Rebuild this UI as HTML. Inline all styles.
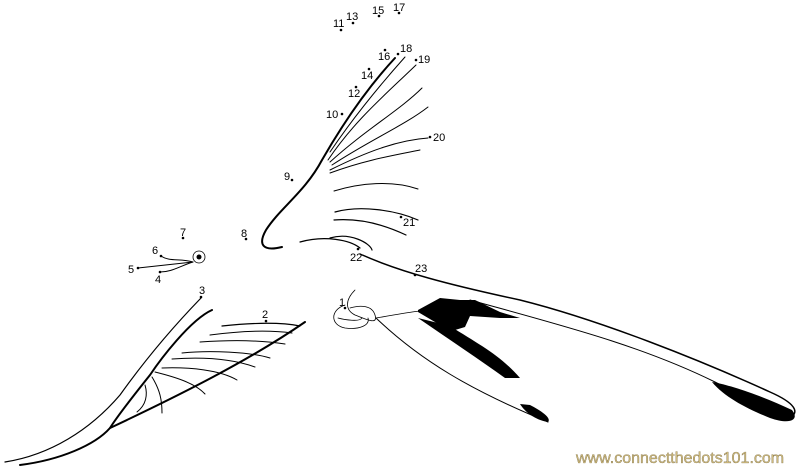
<!DOCTYPE html>
<html><head><meta charset="utf-8"><style>
html,body{margin:0;padding:0;background:#fff;width:800px;height:467px;overflow:hidden}
svg{display:block}
text{font-family:"Liberation Sans",sans-serif;font-size:11px;fill:#000}
.w{font-size:16px;fill:#d2be80;stroke:#7a6a40;stroke-width:0.35}
</style></head><body>
<svg width="800" height="467" viewBox="0 0 800 467" xmlns="http://www.w3.org/2000/svg">
<g fill="none" stroke="#000" stroke-linecap="round">
<!-- upper wing leading edge -->
<path d="M282,247 C262,252 258,244 266,230 C280,208 305,192 322,160 C345,120 370,85 395,58" stroke-width="2"/>
<path d="M330,152 C355,115 380,85 405,57" stroke-width="1"/>
<path d="M328,160 C355,120 385,95 416,65" stroke-width="1"/>
<path d="M330,162 C365,130 400,110 422,88" stroke-width="1"/>
<path d="M332,165 C370,140 405,125 428,107" stroke-width="1"/>
<path d="M330,170 C370,150 400,140 428,138" stroke-width="1"/>
<path d="M330,173 C365,160 395,155 420,150" stroke-width="1"/>
<path d="M334,191 C360,183 392,180 418,189" stroke-width="1"/>
<path d="M335,212 C360,205 395,210 418,220" stroke-width="1.2"/>
<path d="M334,220 C360,218 385,225 406,235" stroke-width="1.2"/>
<path d="M330,238 C350,232 370,243 372,250" stroke-width="1.2"/>
<path d="M300,242 C325,235 350,240 360,248" stroke-width="1.2"/>
<!-- long tail -->
<path d="M360,254 C400,272 450,285 520,300 C600,320 700,360 770,392 C795,403 800,412 790,418" stroke-width="1.5"/>
<path d="M470,300 C560,325 640,345 715,382 C750,400 780,415 790,418" stroke-width="1"/>
<!-- head -->
<circle cx="199" cy="257" r="6" stroke-width="0.8"/>
<circle cx="199" cy="257" r="2.5" fill="#000" stroke="none"/>
<path d="M138,268 L193,262" stroke-width="1"/>
<path d="M161,256 C170,262 180,258 193,262" stroke-width="1"/>
<path d="M160,272 C172,272 180,266 193,262" stroke-width="1"/>
<!-- lower wing -->
<path d="M201,298 C170,330 145,360 120,395 C90,430 50,455 5,462" stroke-width="1.2"/>
<path d="M212,310 C190,320 160,360 150,375 C130,400 115,420 110,428 C95,445 60,460 20,465" stroke-width="2"/>
<path d="M110,428 C180,395 250,360 305,322" stroke-width="2"/>
<path d="M222,326 C250,323 280,322 300,326" stroke-width="1.2"/>
<path d="M210,335 C240,331 270,330 292,333" stroke-width="1"/>
<path d="M200,342 C230,340 260,340 285,344" stroke-width="1"/>
<path d="M182,353 C210,350 250,352 270,358" stroke-width="1"/>
<path d="M172,359 C200,357 230,358 255,367" stroke-width="1"/>
<path d="M162,368 C190,367 220,370 237,380" stroke-width="1"/>
<path d="M155,372 C175,377 195,383 205,394" stroke-width="1"/>
<path d="M152,377 C160,390 162,400 162,413" stroke-width="1"/>
<path d="M145,385 C148,395 146,405 137,412" stroke-width="1"/>
<!-- feet -->
<path d="M355,290 C345,300 345,310 355,315 C368,320 378,325 375,315 C372,305 360,305 350,308" stroke-width="0.8"/>
<path d="M345,305 C330,310 330,325 345,328 C360,330 370,325 368,318" stroke-width="0.8"/>
<path d="M338,318 C345,320 360,322 362,318" stroke-width="0.8"/>
<path d="M376,318 C400,314 410,312 420,311" stroke-width="0.8"/>
<!-- middle tail feather -->
<path d="M376,318 C420,360 470,390 548,422" stroke-width="1"/>
</g>
<g fill="#000">
<path d="M418,310 L440,298 L460,300 L475,300 L500,312 L520,318 L500,318 L470,316 L465,327 L455,330 L440,325 L418,312 Z"/>
<path d="M418,318 L450,326 C480,345 500,355 520,378 L505,378 C480,360 450,340 418,318 Z"/>
<path d="M520,404 L530,405 C540,410 552,418 548,422 C535,420 525,412 520,404 Z"/>
<path d="M712,382 C730,385 760,395 792,410 C800,420 790,425 770,418 C750,410 725,398 712,382 Z"/>
</g>
<g fill="#000">
<circle cx="345" cy="308" r="1.3"/><circle cx="266" cy="321" r="1.3"/><circle cx="201" cy="297" r="1.3"/>
<circle cx="160" cy="272" r="1.3"/><circle cx="138" cy="268" r="1.3"/><circle cx="161" cy="256" r="1.3"/>
<circle cx="183" cy="238" r="1.3"/><circle cx="246" cy="239" r="1.3"/><circle cx="292" cy="180" r="1.3"/>
<circle cx="342" cy="114" r="1.3"/><circle cx="341" cy="30" r="1.3"/><circle cx="356" cy="87" r="1.3"/>
<circle cx="353" cy="23" r="1.3"/><circle cx="369" cy="69" r="1.3"/><circle cx="379" cy="16" r="1.3"/>
<circle cx="385" cy="50" r="1.3"/><circle cx="399" cy="13" r="1.3"/><circle cx="398" cy="54" r="1.3"/>
<circle cx="416" cy="60" r="1.3"/><circle cx="430" cy="137" r="1.3"/><circle cx="401" cy="217" r="1.3"/>
<circle cx="358" cy="249" r="1.3"/><circle cx="415" cy="275" r="1.3"/>
</g>
<text x="339" y="306">1</text><text x="262" y="318">2</text><text x="199" y="294">3</text>
<text x="155" y="283">4</text><text x="128" y="273">5</text><text x="152" y="254">6</text>
<text x="180" y="236">7</text><text x="241" y="237">8</text><text x="284" y="180">9</text>
<text x="326" y="118">10</text><text x="333" y="27">11</text><text x="348" y="97">12</text>
<text x="346" y="20">13</text><text x="361" y="79">14</text><text x="372" y="14">15</text>
<text x="378" y="60">16</text><text x="393" y="11">17</text><text x="400" y="52">18</text>
<text x="418" y="63">19</text><text x="433" y="141">20</text><text x="403" y="226">21</text>
<text x="350" y="261">22</text><text x="415" y="272">23</text>
<text class="w" x="576" y="463">www.connectthedots101.com</text>
</svg>
</body></html>
